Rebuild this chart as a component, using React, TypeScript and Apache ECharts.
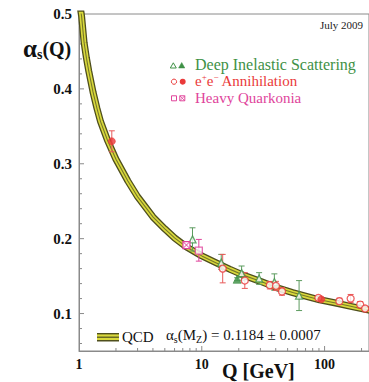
import React, { useEffect, useRef } from "react";
import * as echarts from "echarts";

const SERIF = "'Liberation Serif','Times New Roman',Times,serif";

// QCD running coupling
const curveQ = [1.0, 1.05, 1.1, 1.15, 1.2, 1.3, 1.4, 1.5, 1.7, 2.0, 2.5, 3.0, 4.0, 5.0, 6.0, 7.5, 10, 13, 17, 22, 30, 40, 55, 75, 91.2, 120, 160, 200, 230];
const curveAlpha = [0.52, 0.497, 0.462, 0.441, 0.424, 0.396, 0.374, 0.356, 0.332, 0.306, 0.277, 0.256, 0.229, 0.213, 0.201, 0.189, 0.177, 0.168, 0.159, 0.151, 0.143, 0.135, 0.128, 0.122, 0.1184, 0.1145, 0.11, 0.1065, 0.1045];

// [Q, alpha, errDown, errUp]
const disOpen = [[8.4, 0.199, 0.0155, 0.0155], [14.4, 0.168, 0.009, 0.011], [21.1, 0.154, 0.0095, 0.0095], [29.3, 0.1468, 0.0078, 0.0078], [39, 0.142, 0.011, 0.011], [62, 0.124, 0.02, 0.02]];
const disFilled = [[19.4, 0.1458, 0.002, 0.002]];
const eeOpen = [[14.8, 0.16, 0.019, 0.019], [22.4, 0.1441, 0.0105, 0.0105], [35.8, 0.1379, 0.005, 0.005], [40.2, 0.137, 0.006, 0.006], [45, 0.1295, 0.005, 0.005], [89, 0.121, 0.003, 0.003], [132, 0.1165, 0.004, 0.004], [163, 0.12, 0.0055, 0.0055], [195, 0.112, 0.004, 0.004], [214, 0.1067, 0.003, 0.003]];
const eeFilled = [[1.85, 0.33, 0.014, 0.014], [94, 0.119, 0.002, 0.002]];
const hqOpen = [[9.46, 0.184, 0.014, 0.015]];
const hqCrossed = [[7.5, 0.1915, 0.002, 0.002]];

const yMajorTicks = [0.1, 0.2, 0.3, 0.4];
const yMinorTicks = [0.06, 0.08, 0.12, 0.14, 0.16, 0.18, 0.22, 0.24, 0.26, 0.28, 0.32, 0.34, 0.36, 0.38, 0.42, 0.44, 0.46, 0.48];
const xMajorTicks = [10, 100];
const xMinorTicks = [2, 3, 4, 5, 6, 7, 8, 9, 20, 30, 40, 50, 60, 70, 80, 90, 200];
const xTickLabels = [1, 10, 100];
const yTickLabels = [0.1, 0.2, 0.3, 0.4, 0.5];

const GREEN = "#3f9146";
const GREEN_BAR = "#5d9c60";
const RED = "#ea3a3a";
const RED_BAR = "#e85a5a";
const PINK = "#e0449b";
const YELLOW = "#d9d93c";
const DARK = "#4f4f1d";
const AXIS = "#8a8a8a";

function errSeries(data: number[][], color: string) {
  return {
    type: "custom",
    z: 3,
    data,
    renderItem: (params: any, api: any) => {
      const x = api.value(0);
      const y = api.value(1);
      const lo = api.value(2);
      const hi = api.value(3);
      const pT = api.coord([x, y + hi]);
      const pB = api.coord([x, y - lo]);
      const w = 3;
      const st = { stroke: color, lineWidth: 1 };
      return {
        type: "group",
        children: [
          { type: "line", shape: { x1: pT[0], y1: pT[1], x2: pB[0], y2: pB[1] }, style: st },
          { type: "line", shape: { x1: pT[0] - w, y1: pT[1], x2: pT[0] + w, y2: pT[1] }, style: st },
          { type: "line", shape: { x1: pB[0] - w, y1: pB[1], x2: pB[0] + w, y2: pB[1] }, style: st },
        ],
      };
    },
  };
}

function markSeries(data: number[][], symbol: string, color: string, filled: boolean, size: number) {
  return {
    type: "scatter",
    z: 5,
    symbol,
    symbolSize: size,
    data: data.map((d) => [d[0], d[1]]),
    itemStyle: filled
      ? { color, borderColor: color, borderWidth: 0.8 }
      : { color: "#ffffff", borderColor: color, borderWidth: 1.3 },
  };
}

function bandLine(curve: number[][], color: string, width: number) {
  return {
    type: "line",
    z: 2,
    data: curve,
    smooth: false,
    showSymbol: false,
    symbol: "none",
    lineStyle: { color, width, cap: "round", join: "round" },
  };
}

export default function App() {
  const ref = useRef<HTMLDivElement>(null);
  useEffect(() => {
    if (!ref.current) return;
    const chart = echarts.init(ref.current, null, { renderer: "svg" });
    const curve = curveQ.map((q, i) => [q, curveAlpha[i]]);
    const tickData: number[][] = [
      ...yMajorTicks.map((v) => [1, v, 5, 0]),
      ...yMinorTicks.map((v) => [1, v, 3, 0]),
      ...xMajorTicks.map((v) => [v, 0.05, 5, 1]),
      ...xMinorTicks.map((v) => [v, 0.05, 3, 1]),
    ];
    const option: any = {
      animation: false,
      grid: { left: 79, right: -1, top: 14, bottom: 31, show: true, borderColor: AXIS, borderWidth: 1, backgroundColor: "transparent" },
      xAxis: {
        type: "log",
        logBase: 10,
        min: 1,
        max: 230,
        axisLine: { show: true, lineStyle: { color: AXIS, width: 1 } },
        axisTick: { show: false },
        minorTick: { show: false },
        splitLine: { show: false },
        axisLabel: {
          margin: 6,
          fontSize: 14,
          fontWeight: "bold",
          fontFamily: SERIF,
          color: "#111",
          showMaxLabel: false,
          formatter: (v: number) => {
            const r = xTickLabels.find((t) => Math.abs(v - t) / t < 1e-6);
            return r !== undefined ? String(r) : "";
          },
        },
      },
      yAxis: {
        type: "value",
        min: 0.05,
        max: 0.5,
        interval: 0.05,
        axisLine: { show: true, lineStyle: { color: AXIS, width: 1 } },
        axisTick: { show: false },
        splitLine: { show: false },
        axisLabel: {
          margin: 7,
          fontSize: 15,
          fontWeight: "bold",
          fontFamily: SERIF,
          color: "#111",
          formatter: (v: number) => {
            const r = yTickLabels.find((t) => Math.abs(v - t) < 1e-6);
            return r !== undefined ? r.toFixed(1) : "";
          },
        },
      },
      series: [
        {
          type: "custom",
          z: 2,
          data: tickData,
          renderItem: (params: any, api: any) => {
            const p = api.coord([api.value(0), api.value(1)]);
            const len = api.value(2);
            const dir = api.value(3);
            const shape = dir === 0
              ? { x1: p[0], y1: p[1], x2: p[0] + len, y2: p[1] }
              : { x1: p[0], y1: p[1], x2: p[0], y2: p[1] - len };
            return { type: "line", shape, style: { stroke: AXIS, lineWidth: 1 } };
          },
        },
        bandLine(curve, DARK, 7),
        bandLine(curve, YELLOW, 4.4),
        bandLine(curve, "#77772a", 1.1),
        errSeries(disOpen, GREEN_BAR),
        errSeries(disFilled, GREEN_BAR),
        errSeries(eeOpen, RED_BAR),
        errSeries(eeFilled, RED_BAR),
        errSeries(hqOpen, PINK),
        errSeries(hqCrossed, PINK),
        markSeries(disOpen, "triangle", GREEN, false, 7),
        markSeries(disFilled, "triangle", GREEN, true, 8),
        markSeries(eeOpen, "circle", RED, false, 7),
        markSeries(eeFilled, "circle", RED, true, 7),
        markSeries(hqOpen, "rect", PINK, false, 7),
        {
          type: "custom",
          z: 6,
          data: hqCrossed.map((d) => [d[0], d[1]]),
          renderItem: (params: any, api: any) => {
            const p = api.coord([api.value(0), api.value(1)]);
            const h = 3.5;
            const st = { stroke: PINK, lineWidth: 1.2, fill: "#fff" };
            return {
              type: "group",
              children: [
                { type: "rect", shape: { x: p[0] - h, y: p[1] - h, width: 2 * h, height: 2 * h }, style: st },
                { type: "line", shape: { x1: p[0] - h, y1: p[1] - h, x2: p[0] + h, y2: p[1] + h }, style: { stroke: PINK, lineWidth: 1 } },
                { type: "line", shape: { x1: p[0] + h, y1: p[1] - h, x2: p[0] - h, y2: p[1] + h }, style: { stroke: PINK, lineWidth: 1 } },
              ],
            };
          },
        },
      ],
      graphic: [
        // y axis title
        {
          type: "text",
          left: 23,
          top: 36,
          style: {
            text: "{a|α}{s|s}{q|(Q)}",
            rich: {
              a: { fontSize: 25, fontWeight: "bold", fontFamily: SERIF, fill: "#111", lineHeight: 26 },
              s: { fontSize: 14, fontWeight: "bold", fontFamily: SERIF, fill: "#111", lineHeight: 12, verticalAlign: "bottom" },
              q: { fontSize: 20, fontWeight: "bold", fontFamily: SERIF, fill: "#111", lineHeight: 26 },
            },
          },
        },
        { type: "text", left: 320, top: 19, style: { text: "July 2009", fontSize: 11, fontFamily: SERIF, fill: "#222" } },
        // legend
        { type: "polygon", shape: { points: [[173.3, 62.8], [176.3, 68], [170.3, 68]] }, style: { fill: "#fff", stroke: GREEN, lineWidth: 1 } },
        { type: "polygon", shape: { points: [[181.7, 62.5], [184.8, 68], [178.6, 68]] }, style: { fill: GREEN, stroke: GREEN, lineWidth: 0.5 } },
        { type: "text", left: 195, top: 56, style: { text: "Deep Inelastic Scattering", fontSize: 16, fontFamily: SERIF, fill: GREEN } },
        { type: "circle", shape: { cx: 174, cy: 81.7, r: 2.6 }, style: { fill: "#fff", stroke: RED, lineWidth: 1 } },
        { type: "circle", shape: { cx: 182.7, cy: 81.7, r: 3 }, style: { fill: RED } },
        {
          type: "text",
          left: 195,
          top: 72,
          style: {
            text: "{e|e}{p|+}{e|e}{p|−}{e| Annihilation}",
            rich: {
              e: { fontSize: 15, fontFamily: SERIF, fill: RED, lineHeight: 18 },
              p: { fontSize: 9, fontFamily: SERIF, fill: RED, lineHeight: 10, verticalAlign: "top" },
            },
          },
        },
        { type: "rect", shape: { x: 171.5, y: 95.8, width: 5, height: 5 }, style: { fill: "#fff", stroke: PINK, lineWidth: 1 } },
        { type: "rect", shape: { x: 179.8, y: 95.8, width: 5, height: 5 }, style: { fill: "#fff", stroke: PINK, lineWidth: 1 } },
        { type: "line", shape: { x1: 179.8, y1: 95.8, x2: 184.8, y2: 100.8 }, style: { stroke: PINK, lineWidth: 0.8 } },
        { type: "line", shape: { x1: 184.8, y1: 95.8, x2: 179.8, y2: 100.8 }, style: { stroke: PINK, lineWidth: 0.8 } },
        { type: "text", left: 195, top: 90, style: { text: "Heavy Quarkonia", fontSize: 15, fontFamily: SERIF, fill: PINK } },
        // bottom QCD legend
        { type: "rect", shape: { x: 97, y: 333, width: 22, height: 8.5 }, style: { fill: DARK } },
        { type: "rect", shape: { x: 97, y: 334.4, width: 22, height: 2.2 }, style: { fill: YELLOW } },
        { type: "rect", shape: { x: 97, y: 337.8, width: 22, height: 2.2 }, style: { fill: YELLOW } },
        { type: "text", left: 122, top: 329, style: { text: "QCD", fontSize: 15, fontFamily: SERIF, fill: "#111" } },
        {
          type: "text",
          left: 166,
          top: 327,
          style: {
            text: "{t|α}{b|s}{t|(M}{b|Z}{t|) = 0.1184 ± 0.0007}",
            rich: {
              t: { fontSize: 15, fontFamily: SERIF, fill: "#111", lineHeight: 20 },
              b: { fontSize: 10, fontFamily: SERIF, fill: "#111", lineHeight: 10, verticalAlign: "bottom" },
            },
          },
        },
        { type: "text", left: 222, top: 361, style: { text: "Q [GeV]", fontSize: 20, fontWeight: "bold", fontFamily: SERIF, fill: "#111" } },
      ],
    };
    chart.setOption(option);
    return () => chart.dispose();
  }, []);
  return <div ref={ref} style={{ position: "fixed", left: 0, top: 0, width: 369, height: 382, background: "#fff" }} />;
}
